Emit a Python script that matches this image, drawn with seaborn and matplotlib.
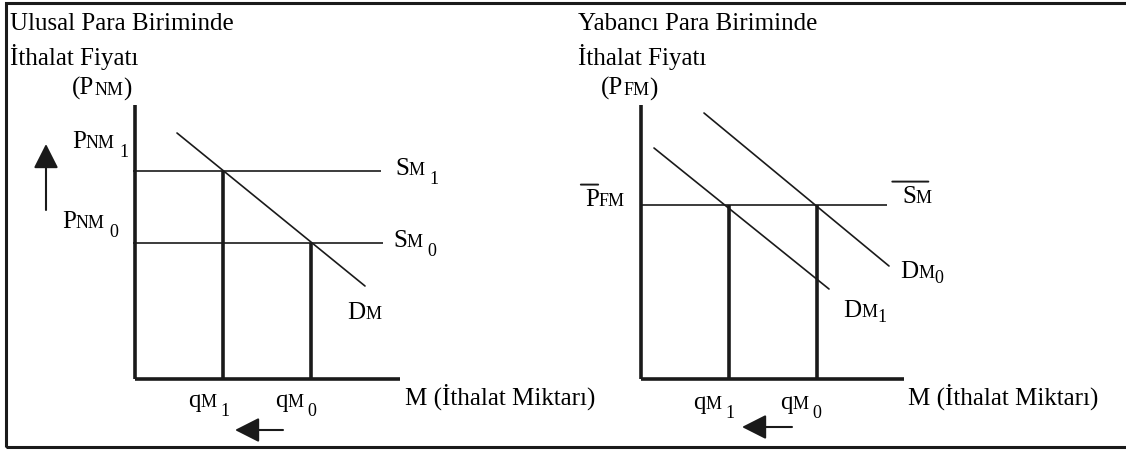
import numpy as np
import matplotlib
matplotlib.use("Agg")
import matplotlib.pyplot as plt
import seaborn as sns
from matplotlib.patches import Rectangle

sns.set_theme(style="white")
plt.rcParams["font.family"] = ["Liberation Serif", "DejaVu Serif"]
plt.rcParams["text.color"] = "black"

# ***** data (units, origin at axes corner) ***** #
# left panel: national currency
q_left = [8.8, 17.6]            # qM1, qM0
p_left = [20.8, 13.6]           # SM1, SM0
dm_left_x = [4.2, 23.0]
dm_left_y = [24.6, 9.3]

# right panel: foreign currency
q_right = [8.8, 17.6]           # qM1, qM0
p_bar = 17.4                    # P_FM bar / S_M bar
dm1_x = [1.3, 18.8]
dm1_y = [23.1, 9.0]
dm0_x = [6.3, 24.8]
dm0_y = [26.6, 11.3]

titles_left = ["Ulusal Para Biriminde", "İthalat Fiyatı"]
titles_right = ["Yabancı Para Biriminde", "İthalat Fiyatı"]
x_label = "M (İthalat Miktarı)"

BIG = 18
SMALL = 13
THICK = 2.6
THIN = 1.2

fig = plt.figure(figsize=(11.26, 4.5), dpi=100)
axL = fig.add_axes([0, 0, 560 / 1126, 1])
axR = fig.add_axes([560 / 1126, 0, 566 / 1126, 1])
axL.set_xlim(-13.5, 42.5)
axR.set_xlim(-8.1, 48.5)
for ax in (axL, axR):
    ax.set_ylim(-7.1, 37.9)
    ax.axis("off")

# outer frame (top, left, bottom; runs off the right edge)
fig.add_artist(Rectangle((6 / 1126, 3 / 450), 1.2, 444 / 450, fill=False,
                         lw=2.2, color="k", transform=fig.transFigure, clip_on=False))


def label(ax, x, y, big, small="", sub="", gap=3, drop=-6.5, bar=None, tail=""):
    t = ax.text(x, y, big, fontsize=BIG, va="baseline", ha="left", clip_on=False)
    first = t
    if small:
        t = ax.annotate(small, xy=(1, 0), xycoords=t, xytext=(0, 0.8),
                        textcoords="offset points", fontsize=SMALL, va="bottom", ha="left")
    if tail:
        ax.annotate(tail, xy=(1, 0), xycoords=t, xytext=(0, -1),
                    textcoords="offset points", fontsize=BIG, va="bottom", ha="left")
    if sub:
        ax.annotate(sub, xy=(1, 0), xycoords=t, xytext=(gap, drop),
                    textcoords="offset points", fontsize=SMALL, va="bottom", ha="left")
    if bar is not None:
        ax.annotate("", xy=(bar[0], 1.2), xycoords=first, xytext=(bar[1], 1.2),
                    textcoords=first,
                    arrowprops=dict(arrowstyle="-", lw=1.4, color="k", shrinkA=0, shrinkB=0))


arrow_kw = dict(arrowstyle="-|>,head_length=0.75,head_width=0.38", mutation_scale=20,
                lw=1.5, color="k", shrinkA=0, shrinkB=0)

# ***** left panel ***** #
axL.plot([0, 0], [0, 27.4], color="k", lw=THICK, solid_capstyle="butt")
axL.plot([0, 26.5], [0, 0], color="k", lw=THICK, solid_capstyle="butt")
axL.hlines(p_left, -0.2, [24.6, 24.8], color="k", lw=THIN)
axL.vlines(q_left, 0, p_left, color="k", lw=THICK)
sns.lineplot(x=dm_left_x, y=dm_left_y, ax=axL, color="k", lw=THIN)

axL.text(-12.5, 34.9, titles_left[0], fontsize=BIG)
axL.text(-12.5, 31.4, titles_left[1], fontsize=BIG)
label(axL, -6.3, 28.4, "(P", "NM", tail=")")
label(axL, -6.3, 23.1, "P", "NM", "1")
label(axL, -7.3, 15.1, "P", "NM", "0")
label(axL, 26.0, 20.4, "S", "M", "1")
label(axL, 25.8, 13.2, "S", "M", "0")
label(axL, 21.2, 6.0, "D", "M")
label(axL, 5.3, -2.8, "q", "M", "1")
label(axL, 14.0, -2.8, "q", "M", "0")
axL.text(27.0, -2.6, x_label, fontsize=BIG)
axL.annotate("", xy=(-8.9, 23.5), xytext=(-8.9, 16.9), arrowprops=arrow_kw)
axL.annotate("", xy=(10.0, -5.1), xytext=(14.8, -5.1), arrowprops=arrow_kw)

# ***** right panel ***** #
axR.plot([0, 0], [0, 27.4], color="k", lw=THICK, solid_capstyle="butt")
axR.plot([0, 26.3], [0, 0], color="k", lw=THICK, solid_capstyle="butt")
axR.hlines(p_bar, 0, 24.6, color="k", lw=THIN)
axR.vlines(q_right, 0, p_bar, color="k", lw=THICK)
sns.lineplot(x=dm1_x, y=dm1_y, ax=axR, color="k", lw=THIN)
sns.lineplot(x=dm0_x, y=dm0_y, ax=axR, color="k", lw=THIN)

axR.text(-6.3, 34.9, titles_right[0], fontsize=BIG)
axR.text(-6.3, 31.4, titles_right[1], fontsize=BIG)
label(axR, -4.0, 28.4, "(P", "FM", tail=")")
label(axR, -5.6, 17.3, "P", "FM", bar=(-0.3, 0.95))
label(axR, 26.1, 17.6, "S", "M", bar=(-0.7, 1.9))
label(axR, 25.9, 10.1, "D", "M", "0", gap=0, drop=-4)
label(axR, 20.2, 6.2, "D", "M", "1", gap=0, drop=-4)
label(axR, 5.2, -3.0, "q", "M", "1")
label(axR, 13.9, -3.0, "q", "M", "0")
axR.text(26.7, -2.6, x_label, fontsize=BIG)
axR.annotate("", xy=(10.1, -4.8), xytext=(15.1, -4.8), arrowprops=arrow_kw)

fig.savefig("out.png", dpi=100)
